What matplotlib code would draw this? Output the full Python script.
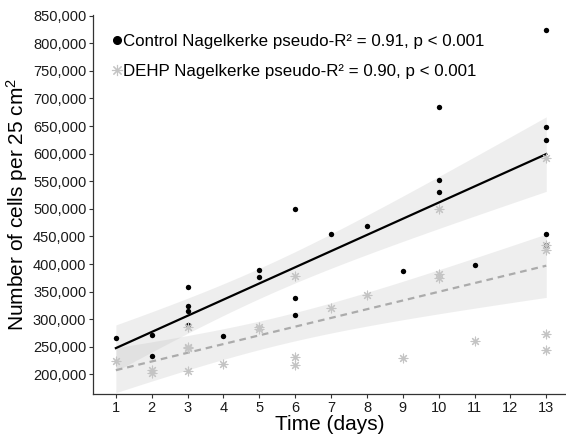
import numpy as np
import matplotlib
matplotlib.use("Agg")
import matplotlib.pyplot as plt
from matplotlib.lines import Line2D
from matplotlib.ticker import FuncFormatter

plt.rcParams['font.family'] = ['Liberation Sans', 'DejaVu Sans']
plt.rcParams['mathtext.default'] = 'regular'

# values
control_days = [1, 2, 2, 3, 3, 3, 3, 4, 5, 5, 6, 6, 6, 7, 8, 9, 10, 10, 10, 11, 13, 13, 13, 13, 13]
control_cells = [266000, 271000, 234000, 359000, 324000, 315000, 289000, 270000, 389000, 376000,
                 500000, 338000, 307000, 454000, 469000, 388000, 685000, 552000, 531000, 398000,
                 825000, 649000, 624000, 454000, 434000]

dehp_days = [1, 2, 2, 3, 3, 3, 3, 4, 5, 5, 6, 6, 6, 7, 8, 9, 10, 10, 10, 11, 13, 13, 13, 13, 13]
dehp_cells = [225000, 207000, 203000, 286000, 250000, 247000, 206000, 219000, 286000, 283000,
              379000, 232000, 217000, 320000, 344000, 229000, 500000, 382000, 374000, 261000,
              592000, 434000, 426000, 273000, 244000]

labels = ["Control Nagelkerke pseudo-R\u00b2 = 0.91, p < 0.001",
          "DEHP Nagelkerke pseudo-R\u00b2 = 0.90, p < 0.001"]
day_ticks = list(range(1, 14))
cell_ticks = list(range(200000, 850001, 50000))


def gamma_fit(x, y):
    # glm(family = Gamma(link = "identity")) via IRLS, 95% band like geom_smooth
    x = np.asarray(x, float)
    y = np.asarray(y, float)
    X = np.column_stack([np.ones_like(x), x])
    beta = np.linalg.lstsq(X, y, rcond=None)[0]
    for _ in range(100):
        mu = X @ beta
        w = 1 / mu ** 2
        XtW = X.T * w
        beta = np.linalg.solve(XtW @ X, XtW @ y)
    mu = X @ beta
    w = 1 / mu ** 2
    phi = np.sum(((y - mu) / mu) ** 2) / (len(y) - 2)
    cov = phi * np.linalg.inv((X.T * w) @ X)
    grid = np.linspace(x.min(), x.max(), 80)
    G = np.column_stack([np.ones_like(grid), grid])
    fit = G @ beta
    se = np.sqrt(np.einsum('ij,jk,ik->i', G, cov, G))
    return grid, fit, fit - 1.96 * se, fit + 1.96 * se


fig = plt.figure(figsize=(5.66, 4.36), dpi=100)
ax = fig.add_axes([0.1648, 0.0956, 0.8352, 0.8711])

gx, gfit, glo, ghi = gamma_fit(control_days, control_cells)
ax.fill_between(gx, glo, ghi, color='#bdbdbd', alpha=0.25, lw=0, zorder=1)
ax.plot(gx, gfit, color='black', lw=1.6, zorder=3)

dx, dfit, dlo, dhi = gamma_fit(dehp_days, dehp_cells)
ax.fill_between(dx, dlo, dhi, color='#bdbdbd', alpha=0.25, lw=0, zorder=1)
ax.plot(dx, dfit, color='#ababab', lw=1.6, ls=(0, (3, 2.2)), zorder=3)

ax.scatter(control_days, control_cells, s=15, color='black', zorder=4, linewidths=0)
ax.scatter(dehp_days, dehp_cells, s=40, marker=(8, 2, 0), color='#c4c4c4', linewidths=0.8, zorder=4)

ax.set_xlim(0.37, 13.55)
ax.set_ylim(163800, 852200)
ax.set_xticks(day_ticks)
ax.set_yticks(cell_ticks)
ax.yaxis.set_major_formatter(FuncFormatter(lambda v, p: f"{int(v):,}"))
ax.tick_params(labelsize=10.5, length=3, width=0.8, color='#333333', labelcolor='#1a1a1a', pad=2)

for s in ['top', 'right']:
    ax.spines[s].set_visible(False)
for s in ['left', 'bottom']:
    ax.spines[s].set_color('#333333')
    ax.spines[s].set_linewidth(0.9)

ax.set_xlabel("Time (days)", fontsize=15, labelpad=0)
ax.set_ylabel("Number of cells per 25 cm$^{2}$", fontsize=15, labelpad=2)

handles = [Line2D([], [], ls='none', marker='o', color='black', markersize=5.5),
           Line2D([], [], ls='none', marker=(8, 2, 0), color='#c4c4c4', markersize=8, markeredgewidth=0.8)]
ax.legend(handles, labels, loc='upper left', bbox_to_anchor=(0.0155, 0.98), frameon=False,
          fontsize=12.2, handlelength=0.5, handletextpad=0.12, labelspacing=0.86, borderaxespad=0.3)

fig.savefig("out.png", dpi=100)
